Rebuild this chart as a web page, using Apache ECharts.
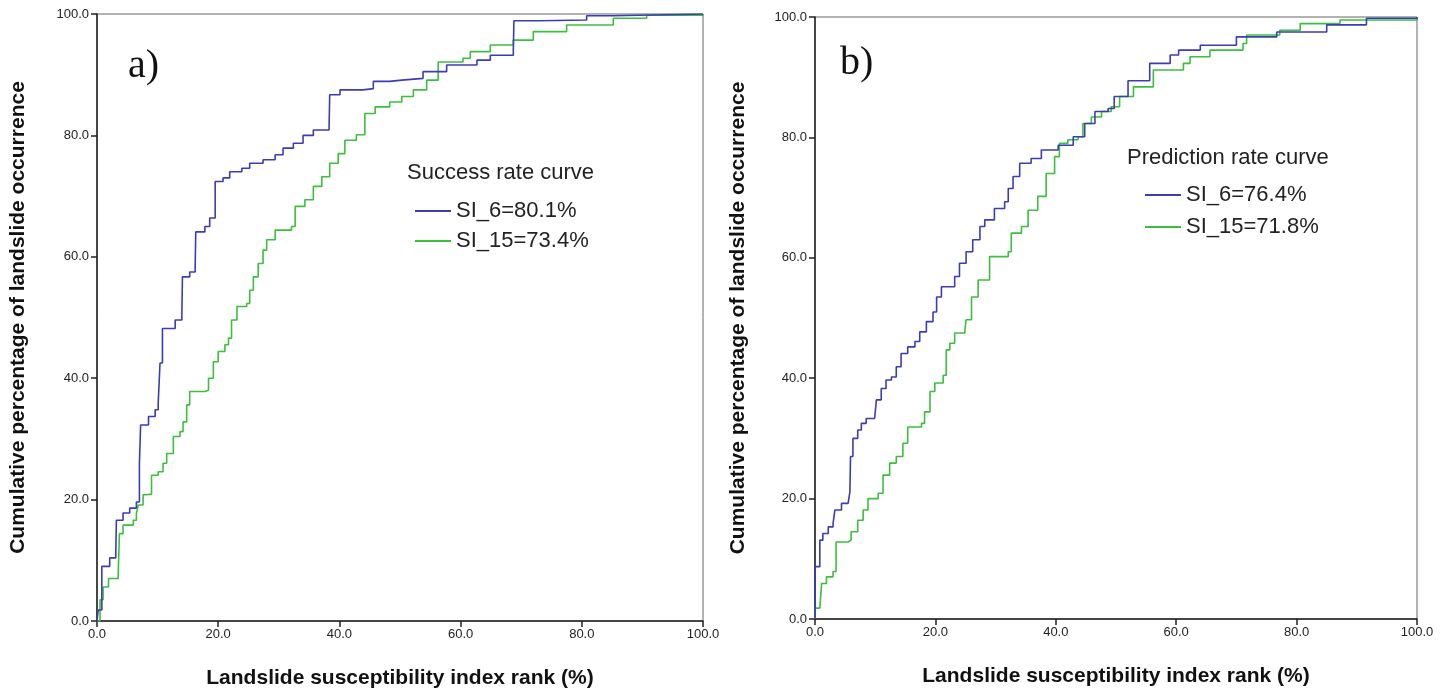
<!DOCTYPE html>
<html>
<head>
<meta charset="utf-8">
<script src="https://cdn.jsdelivr.net/npm/echarts@6/dist/echarts.min.js"></script>
<style>
  html, body { margin: 0; padding: 0; background: #fff; }
  #main { width: 1452px; height: 692px; }
</style>
</head>
<body>
<div id="main"></div>
<script>
// tick labels (both axes, both panels)
var tickValues = [0, 20, 40, 60, 80, 100];

// panel a) success rate curves, [rank %, cumulative %]
var successSI6 = [[0,0],[0.2,1.8],[0.8,9],[2.1,10.4],[3.1,11.2],[3.2,16.6],[4.3,17.8],[5.4,18.6],[6.5,19.6],[7.0,26],[7.2,32.3],[8.5,33.7],[9.6,34.8],[10.1,35.9],[10.4,42.5],[10.8,48.2],[12.9,49.6],[14.0,50.4],[14.1,56.7],[15.3,57.5],[16.2,58.4],[16.3,64.1],[17.8,65],[18.6,66.4],[19.5,72.4],[20.8,73],[21.9,74],[23.9,74.6],[25.2,75.4],[27.4,76],[29.4,76.8],[30.7,77.9],[32.4,78.7],[34,80],[35.7,80.9],[38.3,81.4],[38.4,86.7],[40.1,87.5],[43.9,87.7],[45.6,88.9],[48.3,89.1],[50.3,89.4],[53.8,90.5],[57.7,91.6],[62.7,92.4],[64.9,93.2],[68.7,94.1],[68.8,98.9],[73.1,99],[80.8,99.7],[85.2,100],[100,100]];
var successSI15 = [[0,0],[0.5,3.5],[1.0,5.6],[1.9,7],[3.5,7.8],[3.7,14.4],[4.3,15.8],[6.0,16.6],[6.5,17.7],[6.8,19.1],[7.6,20.8],[8.1,20.9],[9.0,24],[10.1,24.6],[10.9,26],[11.5,27.6],[12.6,30.4],[13.7,31.2],[14.2,32.8],[14.8,35.6],[15.3,37.8],[17.8,38],[18.4,40],[19.2,42.7],[20,44.4],[21.1,45.5],[21.7,46.6],[22.2,49.6],[23.1,51.8],[24.7,52.3],[25.2,54.5],[25.8,56.7],[26.6,58.9],[27.4,61.1],[28,62.8],[29.4,64.4],[32.1,65],[32.7,68.3],[34.3,69.4],[35.7,71.6],[37.1,73.2],[38.4,75.4],[39.8,77],[40.9,79.2],[42.8,80.1],[44.2,83.6],[45.9,84.7],[48.3,85.5],[50.3,86.4],[52.2,87.5],[54.4,89.1],[56.3,92.1],[60.4,92.7],[61.6,93.8],[64.9,94.9],[68.7,95.7],[72,97.1],[77.5,98.2],[85.2,99.3],[90.7,99.8],[100,100]];

// panel b) prediction rate curves
var predictSI6 = [[0,0],[0,8.7],[0.8,13.1],[1.3,14.2],[2.2,15.3],[3,15.9],[3.3,18.1],[4.4,19.2],[5.5,19.5],[5.8,21.1],[5.9,27],[6.3,30],[7.1,31.4],[7.7,32.5],[8.5,33.3],[9.9,33.3],[10.2,36.4],[11,38.3],[11.8,39.7],[12.7,40.2],[13.5,41.9],[14.3,44.1],[15.4,45.2],[16.6,46.1],[17.4,47.7],[18.5,49.4],[19.6,51],[20.2,53.5],[21,55.2],[23.2,56.9],[24,59.1],[25.1,61],[26.2,63],[27.4,65.2],[28.2,66.3],[29.8,68.2],[31.5,69.3],[32.1,71.5],[32.9,73.5],[34,75.7],[35.9,76.5],[37.6,77.9],[40.4,78.7],[42.9,80.1],[44.8,82.3],[46.5,84.3],[48.7,84.8],[49.7,86.8],[52,89.4],[55.6,92.3],[59,93.7],[60.4,94.5],[64,95.3],[70,96.7],[76.7,97.5],[85,98.7],[91.6,99.8],[100,100]];
var predictSI15 = [[0,0],[0,1.8],[0.8,2],[1.1,5.9],[1.9,7],[3,7.9],[3.5,12.8],[5.5,13.1],[6,14.5],[7.1,16.4],[8,18.1],[8.8,20],[10.5,20.9],[11.3,23.9],[12.4,25.9],[13.5,27],[14.6,29.2],[15.4,31.9],[17.7,32.5],[18.2,34.4],[19.1,37.8],[19.9,39.2],[21.3,40.5],[21.8,44.7],[22.4,45.8],[23.2,47.5],[24.9,48],[25.1,49.7],[26,53.5],[27.1,56.3],[29,60.2],[32.1,61],[32.6,64.1],[34.3,65.2],[35.4,67.9],[37,70.2],[38.4,74],[39.8,76.8],[40.6,79],[42,79.6],[43.7,80.1],[44.5,82.3],[45.9,83.4],[47.6,84.3],[49.2,85.1],[50.6,86.8],[52.9,88.4],[56.2,91.2],[61.2,92.3],[62.3,93.4],[65.6,94.5],[71.1,95.6],[71.7,97],[77.2,97.8],[80.6,98.9],[87.2,99.5],[100,100]];

var namesA = ['SI_6=80.1%', 'SI_15=73.4%'];
var namesB = ['SI_6=76.4%', 'SI_15=71.8%'];

var blue = '#3c3cb4';
var green = '#3cbf3c';
var font = 'Arial, "Liberation Sans", sans-serif';

function xAxisCfg(i) {
  return {
    type: 'value', gridIndex: i, min: 0, max: 100, interval: 20,
    name: 'Landslide susceptibility index rank (%)',
    nameLocation: 'middle', nameGap: 47,
    nameTextStyle: { fontFamily: font, fontWeight: 'bold', fontSize: 21, color: '#111' },
    axisLine: { lineStyle: { color: '#222', width: 1.5 } },
    axisTick: { length: 6, lineStyle: { color: '#222', width: 1.5 } },
    axisLabel: { margin: 7, fontFamily: font, fontSize: 13, color: '#222',
      formatter: function (v) { return v.toFixed(1); } },
    splitLine: { show: false }
  };
}
function yAxisCfg(i, gap) {
  return {
    type: 'value', gridIndex: i, min: 0, max: 100, interval: 20,
    name: 'Cumulative percentage of landslide occurrence',
    nameLocation: 'middle', nameGap: gap,
    nameTextStyle: { fontFamily: font, fontWeight: 'bold', fontSize: 21, color: '#111' },
    axisLine: { lineStyle: { color: '#222', width: 1.5 } },
    axisTick: { length: 6, lineStyle: { color: '#222', width: 1.5 } },
    axisLabel: { margin: 8, fontFamily: font, fontSize: 13, color: '#222',
      formatter: function (v) { return v.toFixed(1); } },
    splitLine: { show: false }
  };
}
function curve(name, data, color, i) {
  return {
    name: name, type: 'line', step: 'end', data: data,
    xAxisIndex: i, yAxisIndex: i,
    symbol: 'none', lineStyle: { color: color, width: 1.6 }, itemStyle: { color: color },
    animation: false
  };
}

var chart = echarts.init(document.getElementById('main'));
chart.setOption({
  backgroundColor: '#fff',
  grid: [
    { left: 97, top: 14, width: 606, height: 607, outerBoundsMode: 'none', containLabel: false,
      show: true, borderColor: '#666', borderWidth: 1 },
    { left: 815, top: 17, width: 602, height: 602, outerBoundsMode: 'none', containLabel: false,
      show: true, borderColor: '#666', borderWidth: 1 }
  ],
  xAxis: [xAxisCfg(0), xAxisCfg(1)],
  yAxis: [yAxisCfg(0, 68), yAxisCfg(1, 66)],
  title: [
    { text: 'a)', left: 128, top: 46, padding: 0,
      textStyle: { fontFamily: '"Liberation Serif", "Times New Roman", serif', fontWeight: 'normal', fontSize: 40, color: '#111' } },
    { text: 'b)', left: 840, top: 43, padding: 0,
      textStyle: { fontFamily: '"Liberation Serif", "Times New Roman", serif', fontWeight: 'normal', fontSize: 40, color: '#111' } },
    { text: 'Success rate curve', left: 407, top: 162, padding: 0,
      textStyle: { fontFamily: font, fontWeight: 'normal', fontSize: 22, color: '#222' } },
    { text: 'Prediction rate curve', left: 1127, top: 147, padding: 0,
      textStyle: { fontFamily: font, fontWeight: 'normal', fontSize: 22, color: '#222' } }
  ],
  legend: [
    { data: namesA, orient: 'vertical', left: 415, top: 200, padding: 0,
      icon: 'rect', itemWidth: 36, itemHeight: 2, itemGap: 8,
      textStyle: { fontFamily: font, fontSize: 22, lineHeight: 22, color: '#222' } },
    { data: namesB, orient: 'vertical', left: 1145, top: 184, padding: 0,
      icon: 'rect', itemWidth: 36, itemHeight: 2, itemGap: 10,
      textStyle: { fontFamily: font, fontSize: 22, lineHeight: 22, color: '#222' } }
  ],
  series: [
    curve(namesA[1], successSI15, green, 0),
    curve(namesA[0], successSI6, blue, 0),
    curve(namesB[1], predictSI15, green, 1),
    curve(namesB[0], predictSI6, blue, 1)
  ]
});
</script>
</body>
</html>
